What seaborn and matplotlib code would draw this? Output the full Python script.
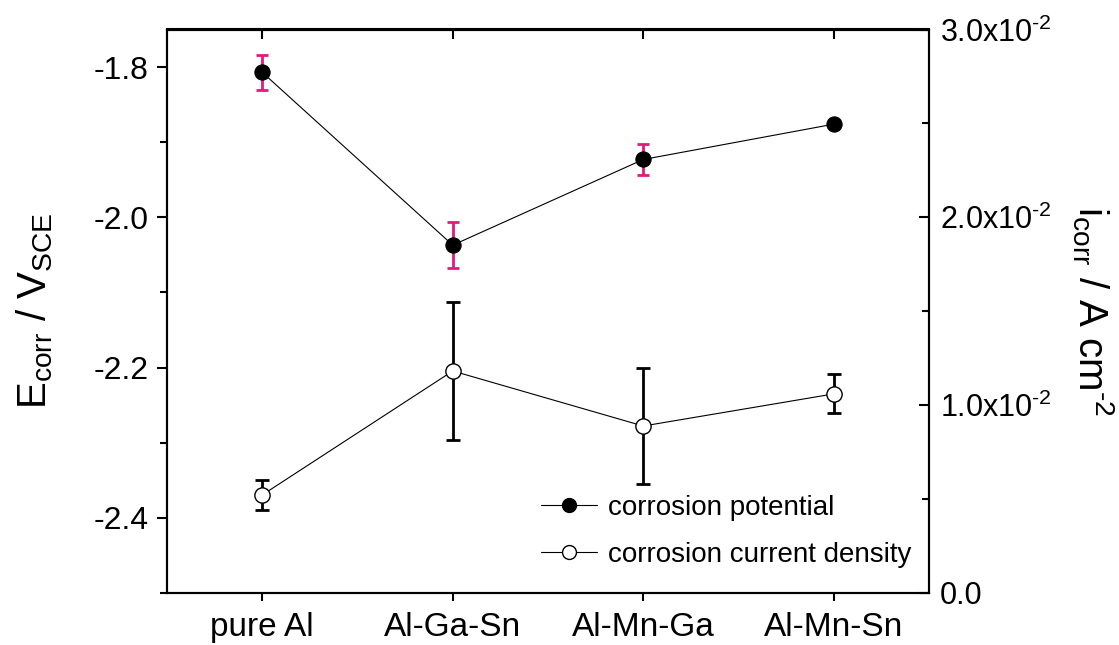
import numpy as np
import pandas as pd
import matplotlib
matplotlib.use("Agg")
import matplotlib.pyplot as plt
import seaborn as sns
from matplotlib.lines import Line2D
from matplotlib.ticker import MultipleLocator, FuncFormatter

# ---- data ----
categories = ["pure Al", "Al-Ga-Sn", "Al-Mn-Ga", "Al-Mn-Sn"]
potential = [-1.807, -2.037, -1.923, -1.876]
potential_err = [0.023, 0.031, 0.021, 0.004]
current = [0.00522, 0.01182, 0.00889, 0.0106]
current_err = [0.0008, 0.00367, 0.0031, 0.00104]

sns.set_theme(style="ticks")
plt.rcParams["font.family"] = ["Liberation Sans", "DejaVu Sans"]
plt.rcParams["mathtext.fontset"] = "custom"
plt.rcParams["mathtext.rm"] = "Liberation Sans"
plt.rcParams["mathtext.it"] = "Liberation Sans:italic"
plt.rcParams["mathtext.bf"] = "Liberation Sans:bold"
for k in ["text.color", "axes.labelcolor", "xtick.color", "ytick.color", "axes.edgecolor"]:
    plt.rcParams[k] = "black"

pink = "#E3197E"
df = pd.DataFrame({"x": np.arange(len(categories)), "pot": potential, "cur": current})

fig = plt.figure(figsize=(11.19, 6.45), dpi=100)
ax = fig.add_axes([167/1119, 1-593/645, (929-167)/1119, (593-29.5)/645])
ax2 = ax.twinx()

# potential
ax.errorbar(df["x"], df["pot"], yerr=potential_err, fmt="none", ecolor=pink,
            elinewidth=2, capsize=4, capthick=2, zorder=2)
sns.lineplot(data=df, x="x", y="pot", ax=ax, color="black", linewidth=0.8,
             marker="o", markersize=11, markerfacecolor="black",
             markeredgecolor="black", zorder=3)

# current
ax2.errorbar(df["x"], df["cur"], yerr=current_err, fmt="none", ecolor="black",
             elinewidth=2, capsize=5, capthick=2, zorder=2)
sns.lineplot(data=df, x="x", y="cur", ax=ax2, color="black", linewidth=0.8,
             marker="o", markersize=11, markerfacecolor="white",
             markeredgecolor="black", markeredgewidth=1, zorder=3)

ax.set_xlim(-0.5, 3.5)
ax.set_ylim(-2.5, -1.75)
ax2.set_ylim(0, 0.03)

ax.set_xticks(df["x"])
ax.set_xticklabels(categories, fontsize=24)
ax.set_xlabel("")
ax.yaxis.set_major_locator(MultipleLocator(0.2))
ax.yaxis.set_minor_locator(MultipleLocator(0.1))
ax.yaxis.set_major_formatter(FuncFormatter(lambda v, p: f"{v:.1f}"))
ax.tick_params(axis="y", which="major", direction="out", length=7, width=1.5, labelsize=23, pad=6)
ax.tick_params(axis="y", which="minor", direction="out", length=5, width=1.5)
ax.tick_params(axis="x", which="major", direction="out", length=6, width=1.5, pad=8)

ax2.yaxis.set_major_locator(MultipleLocator(0.01))
ax2.yaxis.set_minor_locator(MultipleLocator(0.005))
ax2.yaxis.set_major_formatter(FuncFormatter(
    lambda v, p: "0.0" if abs(v) < 1e-9 else f"{v*100:.1f}x10$^{{\\text{{-2}}}}$"))
ax2.tick_params(axis="y", which="major", direction="in", length=7, width=1.5, labelsize=22, pad=8)
ax2.tick_params(axis="y", which="minor", direction="in", length=5, width=1.5)

sec = ax.secondary_xaxis("top")
sec.set_xticks(df["x"])
sec.tick_params(direction="in", length=7, width=1.5, labeltop=False)
sec.spines["top"].set_linewidth(1.5)

for a in (ax, ax2):
    for s in a.spines.values():
        s.set_linewidth(1.5)
        s.set_color("black")

ax.set_ylabel(r"E$_{\mathrm{corr}}$ / V$_{\mathrm{SCE}}$", fontsize=29)
ax.yaxis.set_label_coords(-0.147, 0.5)
ax2.set_ylabel(r"i$_{\mathrm{corr}}$ / A cm$^{\text{-2}}$", fontsize=29, rotation=270, labelpad=0)
ax2.yaxis.set_label_coords(1.245, 0.5)

handles = [
    Line2D([], [], color="black", linewidth=0.8, marker="o", markersize=10,
           markerfacecolor="black", markeredgecolor="black"),
    Line2D([], [], color="black", linewidth=0.8, marker="o", markersize=10,
           markerfacecolor="white", markeredgecolor="black"),
]
fig.legend(handles, ["corrosion potential", "corrosion current density"],
           loc="upper left", bbox_to_anchor=(516/1119, 1-470/645), frameon=False,
           fontsize=20, handlelength=2.0, handletextpad=0.4, labelspacing=0.75,
           numpoints=1)

fig.savefig("out.png", dpi=100)
